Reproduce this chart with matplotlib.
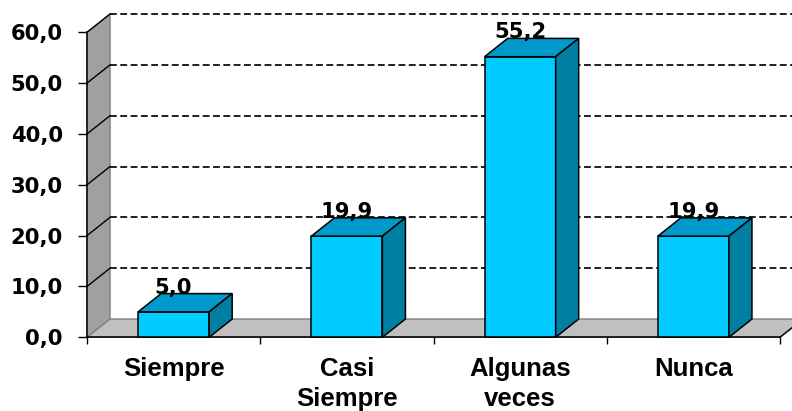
import numpy as np
import matplotlib.pyplot as plt
from matplotlib.patches import Polygon

# Survey answers (percent)
categorias = ["Siempre", "Casi\nSiempre", "Algunas\nveces", "Nunca"]
porcentajes = [5.0, 19.9, 55.2, 19.9]
y_ticks = [0, 10, 20, 30, 40, 50, 60]

# 3D look: depth offset in data units and bar colours
DX = 0.133
DY = 3.6
BAR_W = 0.41
c_front = "#00CCFF"
c_top = "#0099CC"
c_side = "#007FA3"

fig = plt.figure(figsize=(7.92, 4.11), dpi=100)
ax = fig.add_axes([87 / 792, 1 - 337.3 / 411, 693 / 792, 305 / 411])
ax.set_xlim(-0.5, len(categorias) - 0.5)
ax.set_ylim(0, 60)

x0, x1 = -0.5, len(categorias) - 0.5

# left wall and floor
wall = Polygon([(x0, 0), (x0, 60), (x0 + DX, 60 + DY), (x0 + DX, DY)],
               closed=True, facecolor="#A0A0A0", edgecolor="#808080",
               lw=1, clip_on=False, zorder=1)
ax.add_patch(wall)
floor = Polygon([(x0, 0), (x1, 0), (x1 + DX, DY), (x0 + DX, DY)],
                closed=True, facecolor="#C0C0C0", edgecolor="#808080",
                lw=1, clip_on=False, zorder=1)
ax.add_patch(floor)
ax.plot([x1, x1 + DX], [0, DY], color="black", lw=1, clip_on=False, zorder=2)

# gridlines on back wall + their continuation on the side wall
for v in y_ticks[1:]:
    ax.plot([x0 + DX, x1 + DX], [v + DY, v + DY], color="#202020", lw=1.4,
            ls=(0, (3.5, 1.8)), clip_on=False, zorder=1.5)
    ax.plot([x0, x0 + DX], [v, v + DY], color="black", lw=1,
            clip_on=False, zorder=1.5)

# bars
for i, val in enumerate(porcentajes):
    l, r = i - BAR_W / 2, i + BAR_W / 2
    front = Polygon([(l, 0), (r, 0), (r, val), (l, val)], closed=True,
                    facecolor=c_front, edgecolor="black", lw=1.1, zorder=3,
                    clip_on=False)
    top = Polygon([(l, val), (r, val), (r + DX, val + DY), (l + DX, val + DY)],
                  closed=True, facecolor=c_top, edgecolor="black", lw=1.1,
                  zorder=3, clip_on=False)
    side = Polygon([(r, 0), (r + DX, DY), (r + DX, val + DY), (r, val)],
                   closed=True, facecolor=c_side, edgecolor="black", lw=1.1,
                   zorder=3, clip_on=False)
    for p in (front, top, side):
        ax.add_patch(p)
    ax.text(i, val + DY, f"{val:.1f}".replace(".", ","), ha="center",
            va="baseline", fontsize=15.2, fontweight="bold",
            family="DejaVu Sans", zorder=4)

# axes styling
for s in ("top", "right"):
    ax.spines[s].set_visible(False)
ax.spines["left"].set_linewidth(1.1)
ax.spines["bottom"].set_linewidth(1.1)
ax.spines["left"].set_zorder(2)
ax.spines["bottom"].set_zorder(2)

ax.set_yticks(y_ticks)
ax.set_yticklabels([f"{v:.1f}".replace(".", ",") for v in y_ticks],
                   fontsize=15.2, fontweight="bold", family="DejaVu Sans")
ax.tick_params(axis="y", length=6.5, width=1, pad=11)

ax.set_xticks(np.arange(len(categorias) + 1) - 0.5)
ax.set_xticklabels([])
ax.set_xticks(np.arange(len(categorias)), minor=True)
ax.set_xticklabels(categorias, minor=True, fontsize=18.5, fontweight="bold",
                   family="Liberation Sans", linespacing=1.34)
ax.tick_params(axis="x", which="major", length=5, width=1)
ax.tick_params(axis="x", which="minor", length=0, pad=14)

ax.set_facecolor("none")
fig.savefig("out.png", dpi=100)
